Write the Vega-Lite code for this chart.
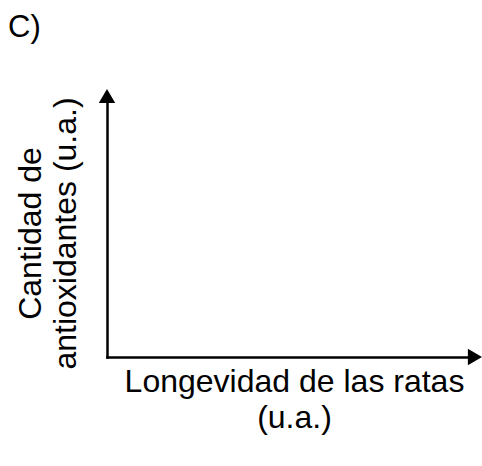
{
  "$schema": "https://vega.github.io/schema/vega-lite/v6.json",
  "width": 368,
  "height": 261,
  "autosize": {"type": "none"},
  "padding": {"left": 107, "top": 96, "right": 7, "bottom": 109},
  "background": "white",
  "title": {"text": "C)", "anchor": "start", "frame": "group", "fontSize": 31, "font": "Liberation Sans", "fontWeight": "normal", "color": "black", "dx": -99, "dy": -41},
  "data": {"values": [
    {"x": 100, "y": 0, "shape": "triangle-right"},
    {"x": 0, "y": 100, "shape": "triangle-up"}
  ]},
  "mark": {"type": "point", "filled": true, "opacity": 1, "color": "black", "size": 270},
  "encoding": {
    "x": {"field": "x", "type": "quantitative", "scale": {"domain": [0, 100], "nice": false}, "axis": {"title": ["Longevidad de las ratas", "(u.a.)"], "titlePadding": 9, "titleX": 187, "titleLineHeight": 36}},
    "y": {"field": "y", "type": "quantitative", "scale": {"domain": [0, 100], "nice": false}, "axis": {"title": ["Cantidad de", "antioxidantes (u.a.)"], "titlePadding": 25, "titleY": 137, "titleLineHeight": 35}},
    "shape": {"field": "shape", "type": "nominal", "scale": null}
  },
  "config": {
    "view": {"stroke": null},
    "axis": {"domainColor": "black", "domainWidth": 2.5, "domainCap": "square", "ticks": false, "labels": false, "grid": false, "titleFont": "Liberation Sans", "titleFontSize": 32, "titleFontWeight": "normal", "titleColor": "black", "titleLineHeight": 37}
  }
}
